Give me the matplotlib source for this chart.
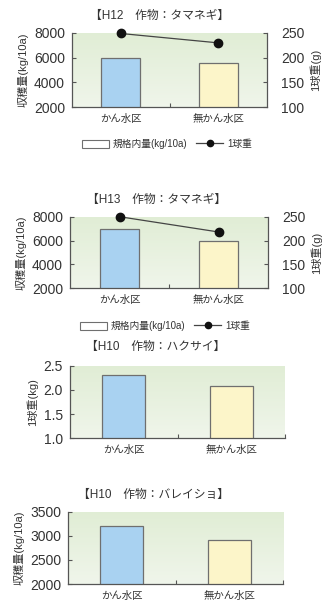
import numpy as np
import matplotlib
matplotlib.use("Agg")
import matplotlib.pyplot as plt
from matplotlib.patches import Patch
from matplotlib.lines import Line2D

plt.rcParams['font.family'] = ['Liberation Sans', 'Noto Sans CJK JP', 'DejaVu Sans']

# ---- data ----
categories = ["かん水区", "無かん水区"]

h12_yield = [5950, 5600]          # 規格内量 (kg/10a)
h12_bulb = [249, 230]             # 1球重 (g)

h13_yield = [6950, 6000]
h13_bulb = [250, 218]

h10_hakusai_weight = [2.30, 2.08]  # 1球重 (kg)
h10_potato_yield = [3200, 2920]    # 収穫量 (kg/10a)

titles = ["【H12　作物：タマネギ】", "【H13　作物：タマネギ】",
          "【H10　作物：ハクサイ】", "【H10　作物：バレイショ】"]

# ---- style ----
W, H = 331, 601
BLUE = "#a9d2f1"
YELLOW = "#fcf5c9"
EDGE = "#6f6f6f"
SPINE = "#555555"
TXT = "#333333"
LINE = "#444444"

fig = plt.figure(figsize=(W / 100, H / 100), dpi=100)
fig.patch.set_facecolor("white")


def px_axes(left, top, right, bottom):
    return fig.add_axes([left / W, 1 - bottom / H, (right - left) / W, (bottom - top) / H])


def green_back(ax):
    grad = np.linspace(0, 1, 64).reshape(-1, 1)
    top = np.array([0.88, 0.93, 0.835])
    bot = np.array([0.94, 0.962, 0.92])
    img = top[None, None, :] * (1 - grad[:, :, None]) + bot[None, None, :] * grad[:, :, None]
    ax.imshow(img, extent=[0, 1, 0, 1], transform=ax.transAxes, aspect="auto",
              zorder=0, interpolation="bilinear")


def base_panel(ax, values, ylim, yticks, ylabel, ytick_fmt, right_spine):
    green_back(ax)
    x = np.arange(len(categories))
    ax.bar(x, values, width=0.4, color=[BLUE, YELLOW], edgecolor=EDGE,
           linewidth=0.9, zorder=2)
    ax.set_xlim(-0.5, 1.5)
    ax.set_ylim(*ylim)
    ax.set_yticks(yticks)
    ax.set_yticklabels([ytick_fmt(v) for v in yticks])
    ax.set_xticks(x)
    ax.set_xticklabels(categories, fontsize=7.5, color=TXT)
    ax.set_xticks([0.5] if right_spine else [0.5, 1.5], minor=True)
    ax.tick_params(axis="x", which="major", length=0, pad=5)
    ax.tick_params(axis="x", which="minor", direction="in", length=3,
                   color=SPINE, width=0.8)
    ax.tick_params(axis="y", direction="in", length=3, color=SPINE, width=0.8,
                   labelsize=10, labelcolor=TXT, pad=5)
    ax.spines["top"].set_visible(False)
    ax.spines["right"].set_visible(False)
    for s in ["left", "bottom"]:
        ax.spines[s].set_color(SPINE)
        ax.spines[s].set_linewidth(0.9)
    ax.set_ylabel(ylabel, fontsize=8, color=TXT, labelpad=4)
    return x


def bulb_axis(ax, x, values):
    ax2 = ax.twinx()
    ax2.set_ylim(100, 250)
    ax2.set_yticks([100, 150, 200, 250])
    ax2.plot(x, values, color=LINE, linewidth=0.9, marker="o", markersize=6,
             markerfacecolor="#111111", markeredgecolor="#111111", zorder=3,
             clip_on=False)
    for s in ["top", "left", "bottom"]:
        ax2.spines[s].set_visible(False)
    ax2.spines["right"].set_color(SPINE)
    ax2.spines["right"].set_linewidth(0.9)
    ax2.tick_params(axis="y", direction="in", length=3, color=SPINE, width=0.8,
                    labelsize=10, labelcolor=TXT, pad=10)
    ax2.set_ylabel("1球重(g)", fontsize=8, color=TXT, rotation=90, labelpad=4)
    return ax2


def legend_row(y_px, x_px):
    handles = [Patch(facecolor="white", edgecolor=EDGE, linewidth=0.8),
               Line2D([0], [0], color=LINE, linewidth=0.9, marker="o", markersize=4.5,
                      markerfacecolor="#111111", markeredgecolor="#111111")]
    fig.legend(handles, ["規格内量(kg/10a)", "1球重"], loc="center",
               bbox_to_anchor=(x_px / W, 1 - y_px / H), ncol=2, frameon=False,
               fontsize=7, handlelength=2.8, handleheight=0.9, columnspacing=0.9,
               handletextpad=0.4, labelcolor=TXT)


int_fmt = lambda v: f"{v:d}"
one_dec = lambda v: f"{v:.1f}"

# H12 onion
ax1 = px_axes(72, 33, 267, 107)
x1 = base_panel(ax1, h12_yield, (2000, 8000), [2000, 4000, 6000, 8000],
                "収穫量(kg/10a)", int_fmt, True)
bulb_axis(ax1, x1, h12_bulb)
fig.text(160 / W, 1 - 16 / H, titles[0], ha="center", va="center", fontsize=8.5, color=TXT)
legend_row(144, 167)

# H13 onion
ax2 = px_axes(70, 216.7, 268, 288.3)
x2 = base_panel(ax2, h13_yield, (2000, 8000), [2000, 4000, 6000, 8000],
                "収穫量(kg/10a)", int_fmt, True)
bulb_axis(ax2, x2, h13_bulb)
fig.text(157 / W, 1 - 200 / H, titles[1], ha="center", va="center", fontsize=8.5, color=TXT)
legend_row(326, 165)

# H10 Chinese cabbage
ax3 = px_axes(70, 365.7, 285, 438.3)
base_panel(ax3, h10_hakusai_weight, (1.0, 2.5), [1.0, 1.5, 2.0, 2.5],
           "1球重(kg)", one_dec, False)
fig.text(156 / W, 1 - 347 / H, titles[2], ha="center", va="center", fontsize=8.5, color=TXT)

# H10 potato
ax4 = px_axes(68, 511.7, 283, 584)
base_panel(ax4, h10_potato_yield, (2000, 3500), [2000, 2500, 3000, 3500],
           "収穫量(kg/10a)", int_fmt, False)
fig.text(153 / W, 1 - 495 / H, titles[3], ha="center", va="center", fontsize=8.5, color=TXT)

fig.savefig("out.png", dpi=100, facecolor="white")
